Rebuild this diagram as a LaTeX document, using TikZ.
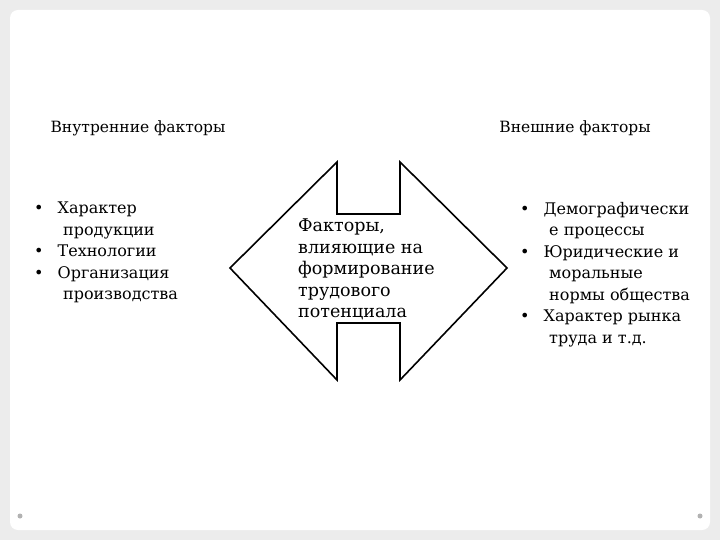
\documentclass[tikz,border=0pt]{standalone}
\usepackage{fontspec}
\setmainfont{DejaVu Serif}
\begin{document}
\begin{tikzpicture}[x=1pt,y=-1pt,
  txt/.style={font=\fontsize{16}{21.5}\selectfont, inner sep=0pt},
  lst/.style={txt, align=left, anchor=north west}]
\useasboundingbox (0,0) rectangle (720,540);
\fill[gray!15] (0,0) rectangle (720,540);
\fill[white, rounded corners=8pt] (10,10) rectangle (710,530);
\fill[gray!60] (20,516) circle (2.5);
\fill[gray!60] (700,516) circle (2.5);
\node[txt, font=\fontsize{15.5}{21.5}\selectfont] (h1) at (138,128) {Внутренние факторы};
\node[txt, font=\fontsize{15.5}{21.5}\selectfont] (h2) at (575,128) {Внешние факторы};
\draw[line width=1.6pt, line join=miter, fill=white]
  (230,268) -- (337,162) -- (337,214) -- (400,214) -- (400,162) -- (507,268)
  -- (400,380) -- (400,323) -- (337,323) -- (337,380) -- cycle;
\node[lst, font=\fontsize{17.5}{21.5}\selectfont] (c) at (298,219) {Факторы,\\влияющие на\\формирование\\трудового\\потенциала};
\node[lst] (l) at (34,202) {•\hspace{14pt}Характер\\\hspace{29pt}продукции\\•\hspace{14pt}Технологии\\•\hspace{14pt}Организация\\\hspace{29pt}производства};
\node[lst] (r) at (520,202) {•\hspace{14pt}Демографически\\\hspace{29pt}е процессы\\•\hspace{14pt}Юридические и\\\hspace{29pt}моральные\\\hspace{29pt}нормы общества\\•\hspace{14pt}Характер рынка\\\hspace{29pt}труда и т.д.};
\end{tikzpicture}
\end{document}
